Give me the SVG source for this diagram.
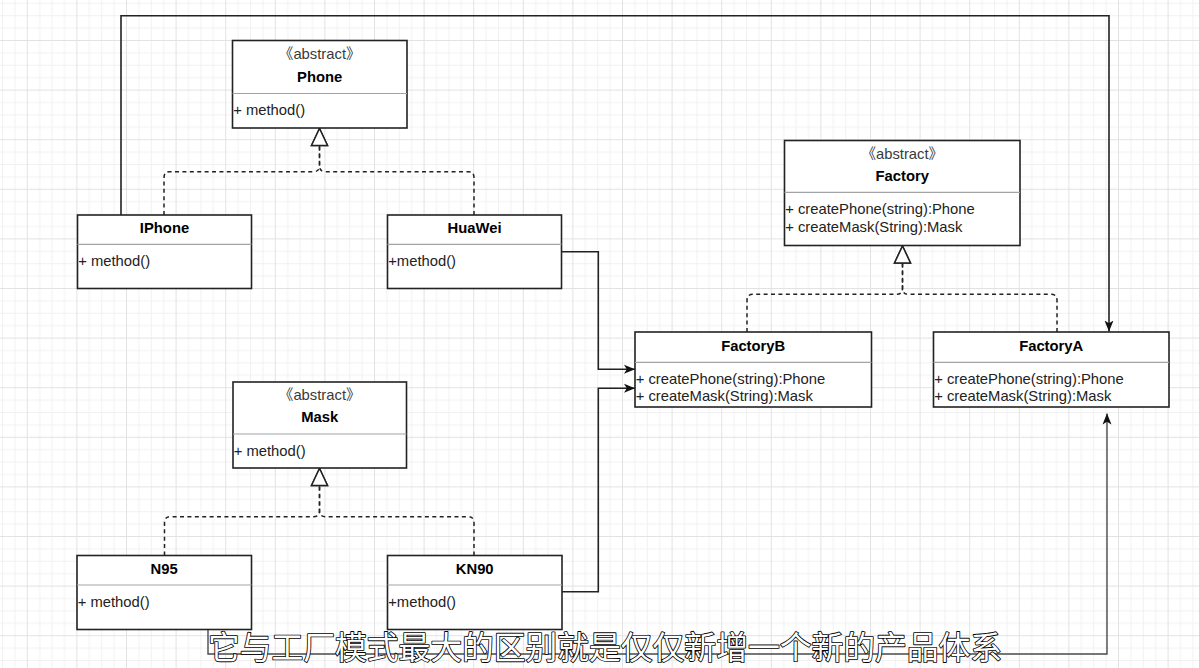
<svg xmlns="http://www.w3.org/2000/svg" width="1199" height="668" viewBox="0 0 1199 668">
<style>
.box{fill:#fff;stroke:#222;stroke-width:1.6}
.div{stroke:#a3a3a3;stroke-width:1.2}
.t{font-family:"Liberation Sans","Noto Sans CJK SC",sans-serif;font-size:14.8px;fill:#222}
.b{font-weight:bold;fill:#000;text-anchor:middle}
.st{text-anchor:middle;fill:#3a3a3a}
.edge{fill:none;stroke:#222;stroke-width:1.6}
.dash{fill:none;stroke:#222;stroke-width:1.5;stroke-dasharray:4 3.4}
.gray{fill:none;stroke:#4a4a4a;stroke-width:1.4}
.sub{font-family:"Noto Sans CJK SC",sans-serif;font-size:31.8px;fill:#fff;stroke:#000;stroke-width:1.7;paint-order:stroke;stroke-linejoin:round}
</style>
<defs>
<pattern id="grid" x="26.8" y="40" width="49.6" height="49.6" patternUnits="userSpaceOnUse">
<path d="M12.9,0V49.6M25.3,0V49.6M37.7,0V49.6M0,12.9H49.6M0,25.3H49.6M0,37.7H49.6" stroke="#f1f1f1" stroke-width="1" fill="none"/>
<path d="M0.5,0V49.6M0,0.5H49.6" stroke="#e2e2e2" stroke-width="1" fill="none"/>
</pattern>
<marker id="tri" viewBox="0 0 20 20" refX="18.5" refY="10" markerWidth="20" markerHeight="20" markerUnits="userSpaceOnUse" orient="auto">
<path d="M1.5,2 L18.5,10 L1.5,18 Z" fill="#fff" stroke="#222" stroke-width="1.5"/>
</marker>
<marker id="arr" viewBox="0 0 12 10" refX="11" refY="5" markerWidth="12" markerHeight="10" markerUnits="userSpaceOnUse" orient="auto">
<path d="M0,0.5 L11,5 L0,9.5 L2.8,5 Z" fill="#111"/>
</marker>
</defs>
<rect width="1199" height="668" fill="#fff"/>
<rect width="1199" height="668" fill="url(#grid)"/>

<g id="connectors">
<path class="edge" d="M121,215 V15.7 H1109 V331.5" marker-end="url(#arr)"/>
<path class="edge" d="M561.5,251.7 H598.3 V369.3 H635" marker-end="url(#arr)"/>
<path class="edge" d="M562,591.7 H598.3 V388.3 H635" marker-end="url(#arr)"/>
<path class="gray" d="M208,629.5 V654 H1107 V413.5" marker-end="url(#arr)"/>
<path class="dash" d="M164,215 V177.7 Q164,171.7 170,171.7 H313.5 Q319.5,171.7 319.5,165.7 V128.5" marker-end="url(#tri)"/>
<path class="dash" d="M474,215 V177.7 Q474,171.7 468,171.7 H325.5 Q319.5,171.7 319.5,165.7 V128.5" marker-end="url(#tri)"/>
<path class="dash" d="M747,332 V300.3 Q747,294.3 753,294.3 H896.5 Q902.5,294.3 902.5,288.3 V246" marker-end="url(#tri)"/>
<path class="dash" d="M1057,332 V300.3 Q1057,294.3 1051,294.3 H908.5 Q902.5,294.3 902.5,288.3 V246" marker-end="url(#tri)"/>
<path class="dash" d="M164.5,555.5 V522.7 Q164.5,516.7 170.5,516.7 H313.5 Q319.5,516.7 319.5,510.7 V468.5" marker-end="url(#tri)"/>
<path class="dash" d="M474,555.5 V522.7 Q474,516.7 468,516.7 H325.5 Q319.5,516.7 319.5,510.7 V468.5" marker-end="url(#tri)"/>
</g>

<g id="Phone">
<rect class="box" x="232.5" y="40.5" width="174.5" height="87.5"/>
<line class="div" x1="232.5" y1="93.5" x2="407" y2="93.5"/>
<text class="t st" x="319.7" y="59">《abstract》</text>
<text class="t b" x="319.7" y="82">Phone</text>
<text class="t" x="233.2" y="114.5">+ method()</text>
</g>

<g id="IPhone">
<rect class="box" x="77.5" y="215" width="174" height="73.5"/>
<line class="div" x1="77.5" y1="244.3" x2="251.5" y2="244.3"/>
<text class="t b" x="164.5" y="233.3">IPhone</text>
<text class="t" x="78.2" y="266">+ method()</text>
</g>

<g id="HuaWei">
<rect class="box" x="387.5" y="215" width="174" height="73.5"/>
<line class="div" x1="387.5" y1="244.3" x2="561.5" y2="244.3"/>
<text class="t b" x="474.5" y="233.3">HuaWei</text>
<text class="t" x="388.2" y="266">+method()</text>
</g>

<g id="Factory">
<rect class="box" x="784.5" y="140.5" width="235.5" height="105"/>
<line class="div" x1="784.5" y1="192.3" x2="1020" y2="192.3"/>
<text class="t st" x="902.3" y="159">《abstract》</text>
<text class="t b" x="902.3" y="181.3">Factory</text>
<text class="t" x="785.2" y="214">+ createPhone(string):Phone</text>
<text class="t" x="785.2" y="231.5">+ createMask(String):Mask</text>
</g>

<g id="FactoryB">
<rect class="box" x="635" y="332" width="236.5" height="75"/>
<line class="div" x1="635" y1="362.3" x2="871.5" y2="362.3"/>
<text class="t b" x="753.2" y="351">FactoryB</text>
<text class="t" x="635.7" y="384">+ createPhone(string):Phone</text>
<text class="t" x="635.7" y="401.4">+ createMask(String):Mask</text>
</g>

<g id="FactoryA">
<rect class="box" x="933.5" y="332" width="235.5" height="75"/>
<line class="div" x1="933.5" y1="362.3" x2="1169" y2="362.3"/>
<text class="t b" x="1051.2" y="351">FactoryA</text>
<text class="t" x="934.2" y="384">+ createPhone(string):Phone</text>
<text class="t" x="934.2" y="401.4">+ createMask(String):Mask</text>
</g>

<g id="Mask">
<rect class="box" x="233" y="382" width="173.5" height="86"/>
<line class="div" x1="233" y1="434" x2="406.5" y2="434"/>
<text class="t st" x="319.7" y="400">《abstract》</text>
<text class="t b" x="319.7" y="422">Mask</text>
<text class="t" x="233.7" y="456">+ method()</text>
</g>

<g id="N95">
<rect class="box" x="77" y="555.5" width="174.5" height="74"/>
<line class="div" x1="77" y1="585" x2="251.5" y2="585"/>
<text class="t b" x="164.2" y="573.6">N95</text>
<text class="t" x="77.7" y="607">+ method()</text>
</g>

<g id="KN90">
<rect class="box" x="387.5" y="555.5" width="174.5" height="74"/>
<line class="div" x1="387.5" y1="585" x2="562" y2="585"/>
<text class="t b" x="474.7" y="573.6">KN90</text>
<text class="t" x="388.2" y="607">+method()</text>
</g>

<text class="sub" x="208" y="659" textLength="794" lengthAdjust="spacing">它与工厂模式最大的区别就是仅仅新增一个新的产品体系</text>
</svg>
